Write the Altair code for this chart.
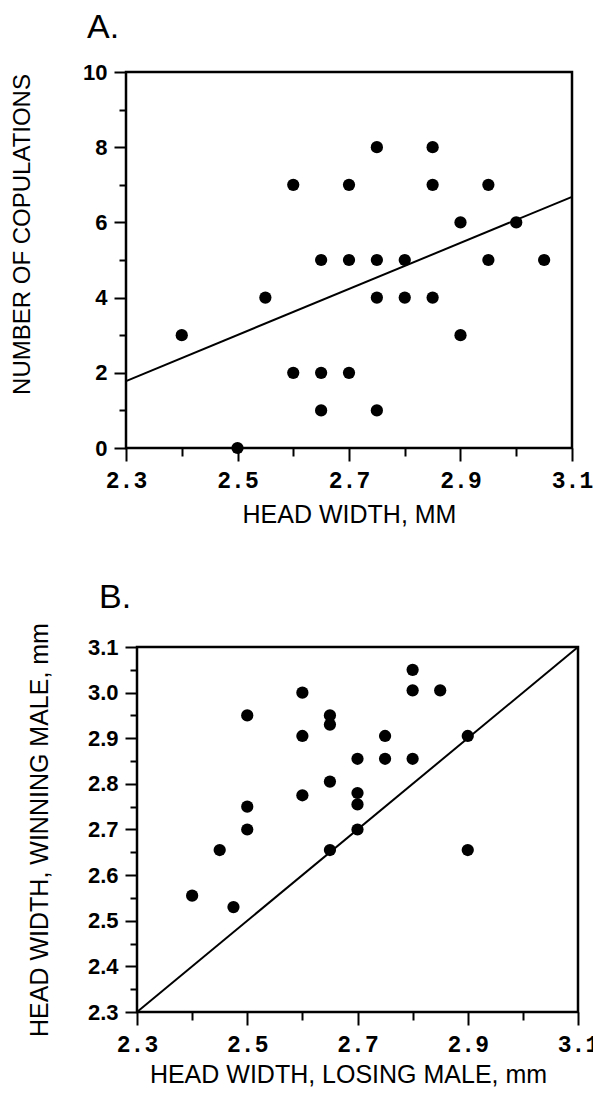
import altair as alt
import pandas as pd

# ---------------- Panel A data ----------------
a_head_width = [2.40, 2.50, 2.55, 2.60, 2.60, 2.65, 2.65, 2.65, 2.70, 2.70, 2.70,
                2.75, 2.75, 2.75, 2.75, 2.80, 2.80, 2.85, 2.85, 2.85, 2.90, 2.90,
                2.95, 2.95, 3.00, 3.05]
a_copulations = [3, 0, 4, 7, 2, 5, 2, 1, 7, 5, 2,
                 8, 5, 4, 1, 5, 4, 8, 7, 4, 6, 3,
                 7, 5, 6, 5]
a_fit_x = [2.3, 3.1]
a_fit_y = [1.78, 6.68]
a_frame_x = [2.3, 3.1]
a_frame_y = [0, 10]

# ---------------- Panel B data ----------------
b_losing = [2.40, 2.45, 2.475, 2.50, 2.50, 2.50, 2.60, 2.60, 2.60,
            2.65, 2.65, 2.65, 2.65, 2.70, 2.70, 2.70, 2.70, 2.75, 2.75,
            2.80, 2.80, 2.80, 2.85, 2.90, 2.90]
b_winning = [2.555, 2.655, 2.53, 2.95, 2.75, 2.70, 3.00, 2.905, 2.775,
             2.95, 2.93, 2.805, 2.655, 2.855, 2.78, 2.755, 2.70, 2.905, 2.855,
             3.05, 3.005, 2.855, 3.005, 2.905, 2.655]
b_diag_x = [2.3, 3.1]
b_diag_y = [2.3, 3.1]
b_frame_x = [2.3, 3.1]
b_frame_y = [2.3, 3.1]

# tick positions
x_ticks = [2.3, 2.4, 2.5, 2.6, 2.7, 2.8, 2.9, 3.0, 3.1]
a_y_ticks = [0, 1, 2, 3, 4, 5, 6, 7, 8, 9, 10]
b_y_ticks = [2.3, 2.35, 2.4, 2.45, 2.5, 2.55, 2.6, 2.65, 2.7, 2.75, 2.8, 2.85,
             2.9, 2.95, 3.0, 3.05, 3.1]

TITLE_FONT = "Liberation Sans"
LABEL_FONT = "Liberation Sans"
MONO_FONT = "Liberation Mono"
FRAME_W = 2.5


def x_axis(title, **kw):
    opts = dict(
        title=title, values=x_ticks, domain=False,
        labelExpr="round(datum.value*10) % 2 == 1 ? format(datum.value, '.1f') : ''",
        tickSize={"condition": {"test": "round(datum.value*10) % 2 == 1", "value": 13}, "value": 8},
        labelFont=MONO_FONT, labelFontWeight="bold", labelFontSize=23,
        labelPadding=8, labelOverlap=False, labelFlush=False,
        titleFont=TITLE_FONT, titleFontWeight="normal", titleFontSize=25,
        titlePadding=10, grid=False,
    )
    opts.update(kw)
    return alt.Axis(**opts)


# ---------------- Panel A ----------------
dfa = pd.DataFrame({"x": a_head_width, "y": a_copulations})
dfa_fit = pd.DataFrame({"x": a_fit_x, "y": a_fit_y})
dfa_frame = pd.DataFrame({"x": [a_frame_x[0]], "x2": [a_frame_x[1]],
                          "y": [a_frame_y[0]], "y2": [a_frame_y[1]]})

xa = alt.X("x:Q", scale=alt.Scale(domain=[2.3, 3.1], nice=False, zero=False),
           axis=x_axis("HEAD WIDTH, MM"))
ya = alt.Y("y:Q", scale=alt.Scale(domain=[0, 10], nice=False, zero=False),
           axis=alt.Axis(
               title="NUMBER OF COPULATIONS", values=a_y_ticks, domain=False,
               labelExpr="datum.value % 2 == 0 ? datum.label : ''",
               tickSize={"condition": {"test": "datum.value % 2 == 0", "value": 12}, "value": 7},
               labelFont=LABEL_FONT, labelFontWeight="bold", labelFontSize=22,
               labelPadding=7, labelOverlap=False, labelFlush=False,
               titleFont=TITLE_FONT, titleFontWeight="normal", titleFontSize=24,
               titlePadding=48, titleY=162, titleAlign="center", grid=False))

frame_a = alt.Chart(dfa_frame).mark_rect(
    fill="white", fillOpacity=0, stroke="black", strokeWidth=FRAME_W
).encode(x=xa, x2="x2:Q", y=ya, y2="y2:Q")
pts_a = alt.Chart(dfa).mark_circle(size=150, color="black", opacity=1).encode(x=xa, y=ya)
line_a = alt.Chart(dfa_fit).mark_line(color="black", strokeWidth=2).encode(x=xa, y=ya)

chart_a = alt.layer(frame_a, line_a, pts_a).properties(
    width=446, height=376,
    title=alt.TitleParams("A.", anchor="start", frame="group", dx=-39, offset=-11,
                          baseline="alphabetic", font=TITLE_FONT, fontSize=34,
                          fontWeight="normal", color="black"))

# ---------------- Panel B ----------------
# plot frame of B sits 11 px to the right of A's: scale range starts at 11
dfb = pd.DataFrame({"x": b_losing, "y": b_winning})
dfb_line = pd.DataFrame({"x": b_diag_x, "y": b_diag_y})
dfb_frame = pd.DataFrame({"x": [b_frame_x[0]], "x2": [b_frame_x[1]],
                          "y": [b_frame_y[0]], "y2": [b_frame_y[1]]})

xb = alt.X("x:Q", scale=alt.Scale(domain=[2.3, 3.1], nice=False, zero=False, range=[11, 452]),
           axis=x_axis("HEAD WIDTH, LOSING MALE, mm", titleX=222, titleAlign="center",
                       titlePadding=6))
yb = alt.Y("y:Q", scale=alt.Scale(domain=[2.3, 3.1], nice=False, zero=False),
           axis=alt.Axis(
               title="HEAD WIDTH, WINNING MALE, mm", values=b_y_ticks, domain=False,
               offset=-11,
               labelExpr="round(datum.value*100) % 10 == 0 ? format(datum.value, '.1f') : ''",
               tickSize={"condition": {"test": "round(datum.value*100) % 10 == 0", "value": 12}, "value": 7},
               labelFont=LABEL_FONT, labelFontWeight="bold", labelFontSize=22,
               labelPadding=7, labelOverlap=False, labelFlush=False,
               titleFont=TITLE_FONT, titleFontWeight="normal", titleFontSize=25,
               titlePadding=35, grid=False))

frame_b = alt.Chart(dfb_frame).mark_rect(
    fill="white", fillOpacity=0, stroke="black", strokeWidth=FRAME_W
).encode(x=xb, x2="x2:Q", y=yb, y2="y2:Q")
pts_b = alt.Chart(dfb).mark_circle(size=150, color="black", opacity=1).encode(x=xb, y=yb)
line_b = alt.Chart(dfb_line).mark_line(color="black", strokeWidth=2).encode(x=xb, y=yb)

chart_b = alt.layer(frame_b, line_b, pts_b).properties(
    width=452, height=365,
    title=alt.TitleParams("B.", anchor="start", frame="group", dx=-27, offset=-19,
                          baseline="alphabetic", font=TITLE_FONT, fontSize=34,
                          fontWeight="normal", color="black"))

chart = alt.concat(chart_a, chart_b, columns=1, spacing=53).properties(
    padding={"left": 2, "top": 3, "right": -6, "bottom": 0}
).configure_view(
    strokeOpacity=0
).configure_axis(
    tickColor="black", tickWidth=2, labelColor="black", titleColor="black"
)

chart.save("out.html", embed_options={"renderer": "svg", "actions": False})
